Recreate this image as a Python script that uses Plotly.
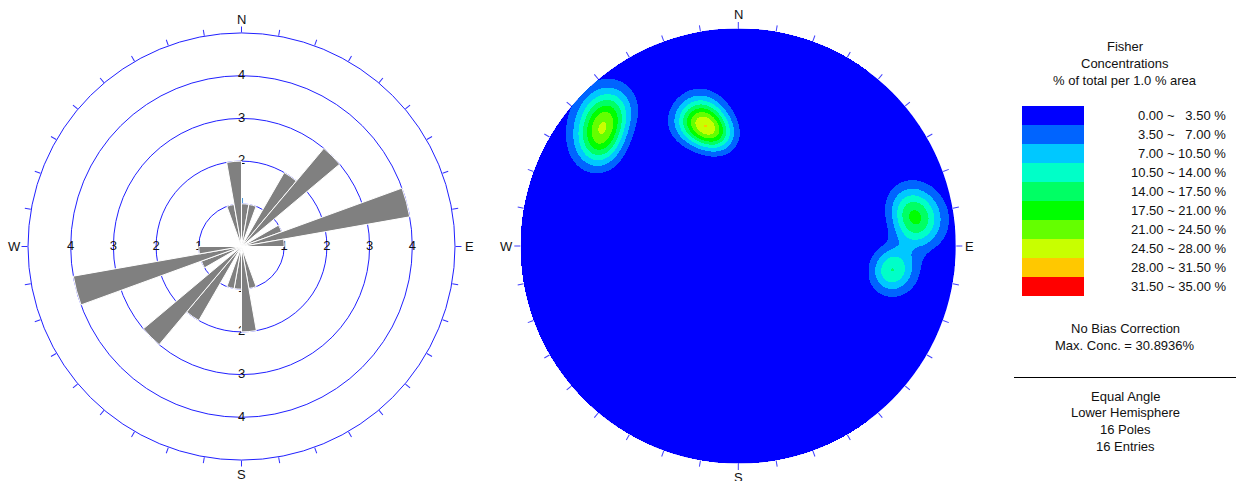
import numpy as np
import plotly.graph_objects as go

# ---------------- data ----------------
# Rose diagram: strike bins (10 deg, bidirectional) and counts
rose_bin_start = [340, 350, 0, 10, 30, 40, 60, 70, 80]
rose_counts = [1, 2, 1, 1, 2, 3, 1, 4, 1]
rose_ring_values = [1, 2, 3, 4]
rose_outer = 5

# Poles (trend, plunge in degrees) read from the stereonet clusters
pole_trend = [304, 308, 311, 314, 318, 338, 342, 344, 346, 348, 351, 76, 81, 84, 97, 101]
pole_plunge = [14, 12, 11, 9, 8, 27, 31, 24, 34, 29, 36, 12, 10, 11, 18, 19]
fisher_k = 120

# Contour classes
level_edges = [0.0, 3.5, 7.0, 10.5, 14.0, 17.5, 21.0, 24.5, 28.0, 31.5, 35.0]
level_colors = ["#0000FF", "#0064FF", "#00C8FF", "#00FFC8", "#00FF64",
                "#00FF00", "#64FF00", "#C8FF00", "#FFC800", "#FF0000"]
compass_angles = [0, 90, 180, 270]
compass_names = ["N", "E", "S", "W"]
legend_title = ["Fisher", "Concentrations", "% of total per 1.0 % area"]
info_top = ["No Bias Correction", "Max. Conc. = 30.8936%"]
info_bottom = ["Equal Angle", "Lower Hemisphere", "16 Poles", "16 Entries"]

W, H = 1236, 481
FONT = "Liberation Sans, Arial, sans-serif"
TXT = "#111111"


def px(x):
    return x / W


def py(y):
    return 1 - y / H


fig = go.Figure()
ann = []
tickvals = list(range(0, 360, 10))

# ---------------- rose diagram ----------------
rose_cx, rose_cy, rose_R = 241.5, 246.5, 213.5
rose_domain = dict(x=[px(rose_cx - rose_R), px(rose_cx + rose_R)],
                   y=[py(rose_cy + rose_R), py(rose_cy - rose_R)])

ring_r, ring_t, ring_s = [], [], []
for ang in compass_angles:
    for v in rose_ring_values:
        ring_r.append(v)
        ring_t.append(ang)
        ring_s.append(str(v))
fig.add_trace(go.Scatterpolar(r=ring_r, theta=ring_t, text=ring_s, mode="text",
                              textfont=dict(size=13, color=TXT, family=FONT),
                              subplot="polar", hoverinfo="skip", showlegend=False))

theta_c, r_c = [], []
for s, c in zip(rose_bin_start, rose_counts):
    theta_c += [(s + 5) % 360, (s + 185) % 360]
    r_c += [c, c]

fig.update_layout(polar=dict(
    domain=rose_domain,
    bgcolor="white",
    radialaxis=dict(range=[0, rose_outer], tickvals=rose_ring_values, showticklabels=False,
                    ticks="", showline=False, showgrid=True, gridcolor="#2020FF", gridwidth=1),
    angularaxis=dict(rotation=90, direction="clockwise", tickmode="array",
                     tickvals=tickvals, ticktext=[""] * len(tickvals), ticks="outside", ticklen=6,
                     tickcolor="#3030FF", showline=True, linecolor="#2020FF", linewidth=1,
                     showgrid=False),
))

# ---------------- stereonet density ----------------
n = 437
g = np.linspace(-1, 1, n)
X, Y = np.meshgrid(g, g)
R = np.sqrt(X ** 2 + Y ** 2)
theta = 2 * np.arctan(R)
pl = np.pi / 2 - theta
tr = np.arctan2(X, Y)
gv = np.stack([np.cos(pl) * np.cos(tr), np.cos(pl) * np.sin(tr), np.sin(pl)])
pt = np.radians(pole_trend)
pp = np.radians(pole_plunge)
dens = np.zeros_like(X)
for t_, p_ in zip(pt, pp):
    d = gv[0] * np.cos(p_) * np.cos(t_) + gv[1] * np.cos(p_) * np.sin(t_) + gv[2] * np.sin(p_)
    dens += np.exp(fisher_k * (d - 1))
dens *= fisher_k / len(pole_trend)
dens[R > 1] = np.nan

cs = []
nl = len(level_colors)
for i, col in enumerate(level_colors):
    cs.append([i / nl, col])
    cs.append([(i + 1) / nl, col])

fig.add_trace(go.Heatmap(x=g, y=g, z=dens, colorscale=cs, zmin=level_edges[0],
                         zmax=level_edges[-1], showscale=False, hoverinfo="skip",
                         xaxis="x", yaxis="y", zsmooth=False))

st_cx, st_cy, st_R = 738.3, 246.0, 217.5
st_domain = dict(x=[px(st_cx - st_R), px(st_cx + st_R)], y=[py(st_cy + st_R), py(st_cy - st_R)])
fig.update_layout(
    xaxis=dict(domain=st_domain["x"], range=[-1, 1], visible=False),
    yaxis=dict(domain=st_domain["y"], range=[-1, 1], visible=False),
)
fig.add_shape(type="circle", xref="x", yref="y", x0=-1, y0=-1, x1=1, y1=1,
              fillcolor=level_colors[0], line=dict(width=0), layer="below")

# stereonet frame ticks (polar overlay)
fig.add_trace(go.Scatterpolar(r=[0], theta=[0], mode="markers", marker=dict(opacity=0),
                              subplot="polar2", hoverinfo="skip", showlegend=False))
fig.update_layout(polar2=dict(
    domain=st_domain,
    bgcolor="rgba(0,0,0,0)",
    radialaxis=dict(visible=False, range=[0, 1]),
    angularaxis=dict(rotation=90, direction="clockwise", tickmode="array",
                     tickvals=tickvals, ticktext=[""] * len(tickvals), ticks="outside", ticklen=6,
                     tickcolor="#4040FF", showline=False, showgrid=False),
))

# rose petals on top (transparent polar overlay so petals cover labels and rings)
fig.add_trace(go.Barpolar(r=r_c, theta=theta_c, width=[10] * len(r_c),
                          marker=dict(color="#808080", line=dict(color="white", width=1)),
                          subplot="polar3", showlegend=False, hoverinfo="skip"))
fig.update_layout(polar3=dict(
    domain=rose_domain,
    bgcolor="rgba(0,0,0,0)",
    radialaxis=dict(visible=False, range=[0, rose_outer], showgrid=False),
    angularaxis=dict(visible=False, rotation=90, direction="clockwise", showgrid=False,
                     showline=False),
))

# compass labels for both nets
for cx, cy, rr, off in [(rose_cx, rose_cy, rose_R, 14), (st_cx, st_cy, st_R, 14)]:
    for a, nm in zip(compass_angles, compass_names):
        ar = np.radians(a)
        lx = cx + (rr + off) * np.sin(ar)
        ly = cy - (rr + off) * np.cos(ar)
        ann.append(dict(x=px(lx), y=py(ly), xref="paper", yref="paper", text=nm,
                        showarrow=False, xanchor="center", yanchor="middle",
                        font=dict(size=13, color=TXT, family=FONT)))

# ---------------- legend panel ----------------
for i, t in enumerate(legend_title):
    ann.append(dict(x=px(1125), y=py(46 + 17 * i), xref="paper", yref="paper", text=t,
                    showarrow=False, xanchor="center", yanchor="middle",
                    font=dict(size=13, color=TXT, family=FONT)))

box_x0, box_x1, box_top, box_h = 1022, 1084, 106, 19
for i, col in enumerate(level_colors):
    y0 = box_top + box_h * i
    fig.add_shape(type="rect", xref="paper", yref="paper", x0=px(box_x0), x1=px(box_x1),
                  y0=py(y0 + box_h), y1=py(y0), fillcolor=col, line=dict(width=0))
    lo, hi = level_edges[i], level_edges[i + 1]
    lo_s = f"{lo:.2f}"
    hi_s = f"{hi:.2f}"
    if len(hi_s) < 5:
        hi_s = "\u2007" + hi_s
    ann.append(dict(x=px(1228), y=py(y0 + box_h / 2), xref="paper", yref="paper",
                    text=f"{lo_s} ~ {hi_s} %", showarrow=False, xanchor="right",
                    yanchor="middle", font=dict(size=13, color=TXT, family=FONT)))

for i, t in enumerate(info_top):
    ann.append(dict(x=px(1125), y=py(328 + 17 * i), xref="paper", yref="paper", text=t,
                    showarrow=False, xanchor="center", yanchor="middle",
                    font=dict(size=13, color=TXT, family=FONT)))
fig.add_shape(type="line", xref="paper", yref="paper", x0=px(1014), x1=px(1236),
              y0=py(377.5), y1=py(377.5), line=dict(color="black", width=1))
for i, t in enumerate(info_bottom):
    ann.append(dict(x=px(1125), y=py(396 + 16.8 * i), xref="paper", yref="paper", text=t,
                    showarrow=False, xanchor="center", yanchor="middle",
                    font=dict(size=13, color=TXT, family=FONT)))

fig.update_layout(annotations=ann, width=W, height=H, autosize=False,
                  margin=dict(l=0, r=0, t=0, b=0), paper_bgcolor="white",
                  plot_bgcolor="rgba(0,0,0,0)", showlegend=False,
                  font=dict(family=FONT, size=13, color=TXT))

fig.write_html("out.html", config={"displayModeBar": False},
               post_script="document.body.style.margin='0';")
